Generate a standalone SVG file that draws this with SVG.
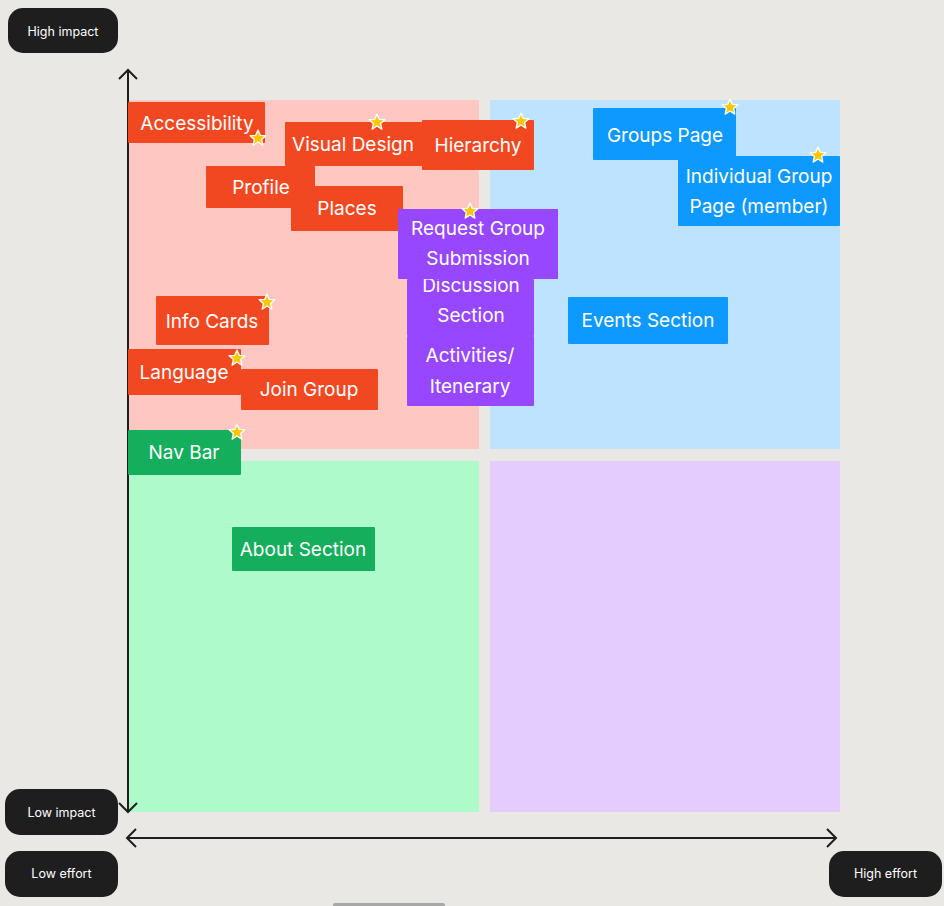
<svg xmlns="http://www.w3.org/2000/svg" width="944" height="906" viewBox="0 0 944 906">
<defs>
<style>
.st{font-family:Inter,"Noto Sans","Liberation Sans",sans-serif;font-size:19px;fill:#fff;text-anchor:middle}
.pl{font-family:Inter,"Noto Sans","Liberation Sans",sans-serif;font-size:12.5px;fill:#fff;text-anchor:middle}
.o{fill:#f24822}.p{fill:#9747ff}.b{fill:#0d99ff}.g{fill:#14ae5c}
.pill{fill:#1e1e1e}
.ax{stroke:#1e1e1e;stroke-width:2;fill:none}
.star{fill:#ffc700;stroke:#fff;stroke-width:1.2;stroke-linejoin:round}
</style>
<symbol id="star" viewBox="-8 -8 16 16" overflow="visible">
<polygon class="star" points="0,-7 2,-2.4 7,-2 3.2,1.3 4.3,6.3 0,3.6 -4.3,6.3 -3.2,1.3 -7,-2 -2,-2.4"/>
</symbol>
</defs>
<rect width="944" height="906" fill="#e9e8e4"/>
<g id="quadrants">
<rect x="128" y="100" width="351" height="349" fill="#ffc7c2"/>
<rect x="490" y="100" width="350" height="349" fill="#bde3ff"/>
<rect x="128" y="461" width="351" height="351" fill="#affaca"/>
<rect x="490" y="461" width="350" height="351" fill="#e4ccff"/>
</g>
<g id="connectors">
<path class="ax" d="M128 70 V812 M119 79 L128 70 L137 79 M119 803 L128 812 L137 803"/>
<path class="ax" d="M127 838 H836 M136 829 L127 838 L136 847 M827 829 L836 838 L827 847"/>
</g>
<g id="high-impact"><rect class="pill" x="8" y="8" width="110" height="45" rx="15"/><text class="pl" x="63" y="36">High impact</text></g>
<g id="low-impact"><rect class="pill" x="5" y="789" width="113" height="46" rx="15"/><text class="pl" x="61.5" y="817">Low impact</text></g>
<g id="low-effort"><rect class="pill" x="5" y="851" width="113" height="46" rx="15"/><text class="pl" x="61.5" y="878">Low effort</text></g>
<g id="high-effort"><rect class="pill" x="829" y="851" width="113" height="46" rx="15"/><text class="pl" x="885.5" y="878">High effort</text></g>
<rect x="333" y="903" width="112" height="4" rx="2" fill="#a8a8a8"/>
<g id="accessibility"><rect class="o" x="128" y="102" width="137" height="41" rx="1"/><text class="st" x="197" y="130">Accessibility</text><use href="#star" x="249" y="129" width="18" height="18"/></g>
<g id="visual-design"><rect class="o" x="285" y="122" width="138" height="44" rx="1"/><text class="st" x="353" y="151">Visual Design</text><use href="#star" x="368" y="113" width="18" height="18"/></g>
<g id="hierarchy"><rect class="o" x="422" y="120" width="112" height="50" rx="1"/><text class="st" x="478" y="152">Hierarchy</text><use href="#star" x="512" y="112" width="18" height="18"/></g>
<g id="profile"><rect class="o" x="206" y="166" width="109" height="42" rx="1"/><text class="st" x="261" y="194">Profile</text></g>
<g id="places"><rect class="o" x="291" y="186" width="112" height="45" rx="1"/><text class="st" x="347" y="215">Places</text></g>
<g id="discussion-section"><rect class="p" x="407" y="279" width="127" height="57" rx="1"/><text class="st" x="471" y="292">Discussion</text><text class="st" x="471" y="322">Section</text></g>
<g id="request-group-submission"><rect class="p" x="398" y="209" width="160" height="70" rx="1"/><text class="st" x="478" y="235">Request Group</text><text class="st" x="478" y="265">Submission</text><use href="#star" x="461" y="202" width="18" height="18"/></g>
<g id="activities"><rect class="p" x="407" y="336" width="127" height="70" rx="1"/><text class="st" x="470" y="362">Activities/</text><text class="st" x="470" y="393">Itenerary</text></g>
<g id="groups-page"><rect class="b" x="593" y="108" width="143" height="52" rx="1"/><text class="st" x="665" y="142">Groups Page</text><use href="#star" x="721" y="98" width="18" height="18"/></g>
<g id="individual-group-page"><rect class="b" x="678" y="156" width="162" height="70" rx="1"/><text class="st" x="759" y="183">Individual Group</text><text class="st" x="759" y="213">Page (member)</text><use href="#star" x="809" y="146" width="18" height="18"/></g>
<g id="events-section"><rect class="b" x="568" y="297" width="160" height="47" rx="1"/><text class="st" x="648" y="327">Events Section</text></g>
<g id="info-cards"><rect class="o" x="156" y="296" width="113" height="49" rx="1"/><text class="st" x="212" y="328">Info Cards</text><use href="#star" x="258" y="293" width="18" height="18"/></g>
<g id="language"><rect class="o" x="128" y="349" width="113" height="46" rx="1"/><text class="st" x="184" y="379">Language</text><use href="#star" x="228" y="349" width="18" height="18"/></g>
<g id="join-group"><rect class="o" x="241" y="369" width="137" height="41" rx="1"/><text class="st" x="309" y="396">Join Group</text></g>
<g id="nav-bar"><rect class="g" x="128" y="430" width="113" height="45" rx="1"/><text class="st" x="184" y="459">Nav Bar</text><use href="#star" x="228" y="423" width="18" height="18"/></g>
<g id="about-section"><rect class="g" x="232" y="527" width="143" height="44" rx="1"/><text class="st" x="303" y="556">About Section</text></g>
</svg>
